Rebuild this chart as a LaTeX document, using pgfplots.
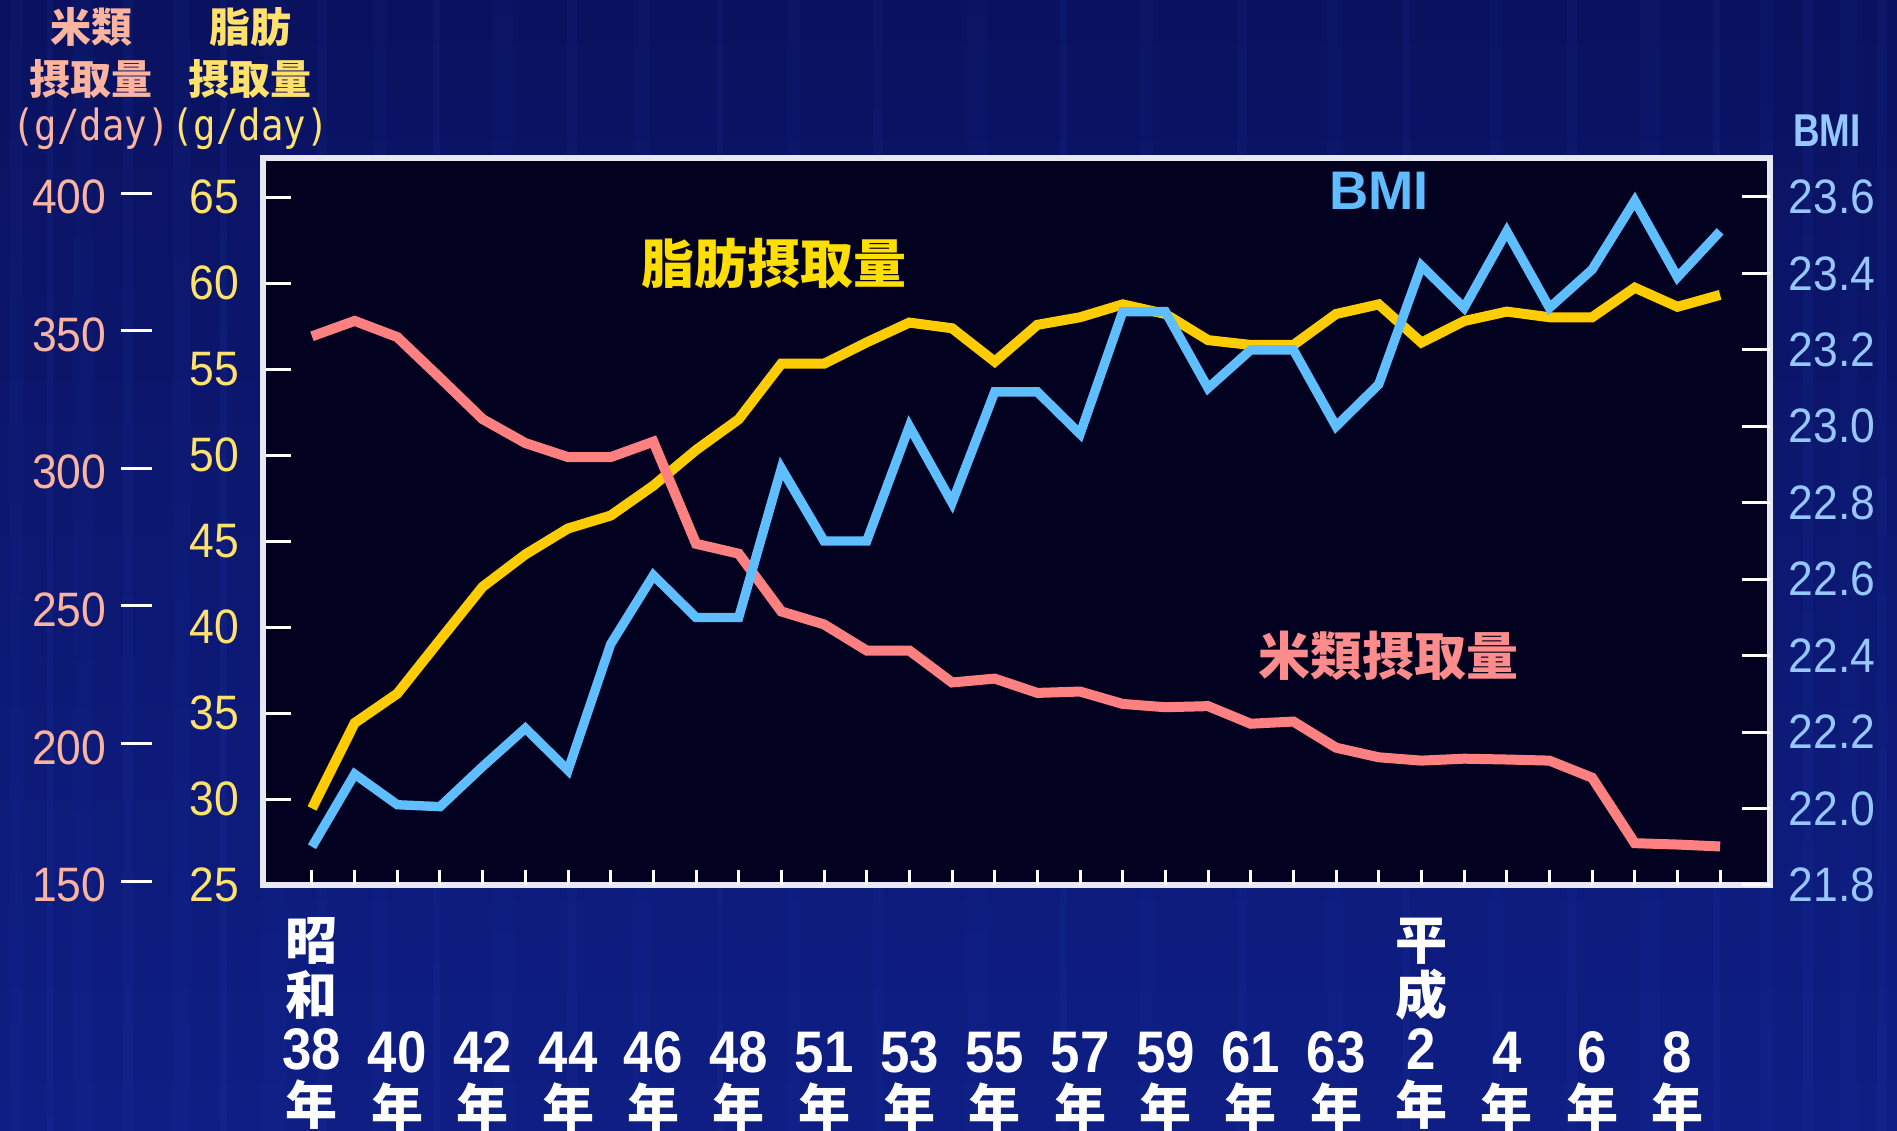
\documentclass[border=0pt]{standalone}
\usepackage{fontspec}
\usepackage{graphicx}
\usepackage{pgfplots}
\pgfplotsset{compat=1.18}
\setmainfont{Liberation Sans}
\newfontfamily\cjk{Noto Sans CJK JP}[BoldFont={Noto Sans CJK JP Black}]
\newfontfamily\numfont[FakeStretch=0.92]{Liberation Sans}
\newfontfamily\xnfont[FakeStretch=0.9]{Liberation Sans}
\newfontfamily\condfont[FakeStretch=0.8]{Liberation Sans}
\newfontfamily\monofont{DejaVu Sans Mono}

\definecolor{bgtop}{RGB}{10,18,95}
\definecolor{bgbot}{RGB}{14,30,132}
\definecolor{streak}{RGB}{40,75,200}
\definecolor{plotbg}{RGB}{2,2,32}
\definecolor{framecol}{RGB}{232,232,240}
\definecolor{rice}{RGB}{255,128,128}
\definecolor{fat}{RGB}{255,204,0}
\definecolor{bmi}{RGB}{95,190,255}
\definecolor{ricelab}{RGB}{250,180,160}
\definecolor{fatlab}{RGB}{255,225,110}
\definecolor{bmilab}{RGB}{150,200,255}
\definecolor{fatin}{RGB}{255,222,0}
\definecolor{ricein}{RGB}{255,140,140}
\definecolor{bmiin}{RGB}{95,188,255}

\pgfplotstableread{
x rice fat bmi
0 349.4 29.45 21.90
1 355.0 34.42 22.09
2 349.1 36.13 22.01
3 334.3 39.25 22.005
4 319.3 42.34 22.11
5 310.6 44.22 22.21
6 305.5 45.73 22.10
7 305.5 46.48 22.43
8 311.1 48.22 22.61
9 274.0 50.29 22.50
10 270.4 52.08 22.50
11 249.4 55.31 22.89
12 244.7 55.31 22.70
13 235.2 56.55 22.70
14 235.2 57.70 23.00
15 223.6 57.37 22.80
16 225.0 55.43 23.09
17 219.8 57.57 23.09
18 220.3 58.01 22.98
19 215.8 58.76 23.30
20 214.6 58.20 23.30
21 215.0 56.68 23.10
22 208.6 56.40 23.20
23 209.4 56.40 23.20
24 199.9 58.20 23.00
25 196.4 58.76 23.11
26 195.2 56.54 23.42
27 195.9 57.79 23.31
28 195.6 58.34 23.51
29 195.2 58.01 23.31
30 189.0 58.01 23.41
31 165.2 59.73 23.59
32 164.7 58.62 23.39
33 164.0 59.31 23.51
}\datatable

\newcommand{\xe}[3]{#1\\#2\\{\xnfont\bfseries\fontsize{17.6}{16.5}\selectfont #3}\\年}
\newcommand{\xn}[1]{\phantom{年}\\\phantom{年}\\{\xnfont\bfseries\fontsize{17.6}{16.5}\selectfont #1}\\年}

\pgfplotsset{base/.style={scale only axis, width=452.1pt, height=218.1pt,
  at={(78.9pt,73.8pt)}, anchor=south west, xmin=-1.148, xmax=34.17,
  clip=false}}

\begin{document}
\begin{tikzpicture}
\useasboundingbox (0,0) rectangle (569.1pt,339.3pt);
\shade[top color=bgtop, bottom color=bgbot] (0,0) rectangle (569.1pt,339.3pt);
\foreach \xx/\ww/\op in {3/4/0.07, 14/2/0.11, 22/6/0.06, 37/3/0.09, 52/5/0.07, 66/2/0.12, 79/7/0.05,
  95/3/0.08, 112/4/0.06, 130/2/0.1, 148/6/0.05, 170/3/0.08, 190/5/0.06, 215/2/0.09, 236/4/0.06,
  262/3/0.07, 290/6/0.05, 318/2/0.1, 342/4/0.06, 371/3/0.08, 398/5/0.06, 421/2/0.1, 447/4/0.06,
  470/3/0.08, 492/6/0.06, 514/2/0.11, 528/4/0.07, 541/3/0.1, 552/5/0.06, 563/3/0.09}
  {\fill[streak, opacity=\op] (\xx pt,0) rectangle ++(\ww pt,339.3pt);}

% fat axis (frame + plot background)
\begin{axis}[base, ymin=25, ymax=67.27, ytick={25,30,...,65}, xtick=\empty,
  ytick pos=left, tick align=inside, major tick length=8.4pt,
  ytick style={white, line width=0.9pt},
  axis line style={draw=framecol, line width=1.6pt},
  axis background/.style={fill=plotbg},
  /pgf/number format/assume math mode=true,
  yticklabel style={text=fatlab, font=\numfont\fontsize{14.5}{14.5}\selectfont, inner sep=0pt, xshift=-6.9pt}]
\addplot[fat, line width=3pt] table[x=x, y=fat] {\datatable};
\end{axis}

% rice axis (x ticks and labels)
\begin{axis}[base, ymin=150, ymax=414.2, ytick={150,200,...,400},
  ytick pos=left, xtick={0,...,33}, xtick pos=bottom,
  tick align=inside, major tick length=4.5pt,
  ytick style={draw=none}, xtick style={white, line width=0.9pt},
  axis line style={draw=none},
  /pgf/number format/assume math mode=true,
  yticklabel={\textcolor{ricelab}{\pgfmathprintnumber{\tick}}\hspace{4.5pt}\textcolor{white}{\rule[5.7pt]{9.3pt}{0.9pt}}},
  yticklabel style={font=\numfont\fontsize{14.5}{14.5}\selectfont, inner sep=0pt, xshift=-33pt, anchor=east},
  xticklabels={{\xe{昭}{和}{38}},{},{\xn{40}},{},{\xn{42}},{},{\xn{44}},{},{\xn{46}},{},{\xn{48}},{},{\xn{51}},{},{\xn{53}},{},{\xn{55}},{},{\xn{57}},{},{\xn{59}},{},{\xn{61}},{},{\xn{63}},{},{\xe{平}{成}{2}},{},{\xn{4}},{},{\xn{6}},{},{\xn{8}},{}},
  xticklabel style={align=center, font=\cjk\bfseries\fontsize{15.6}{16.5}\selectfont, text=white, anchor=north, inner sep=0pt, yshift=-9.6pt}]
\addplot[rice, line width=3pt] table[x=x, y=rice] {\datatable};
\end{axis}

% BMI axis
\begin{axis}[base, ymin=21.8, ymax=23.702,
  ytick={21.8,22.0,22.2,22.4,22.6,22.8,23.0,23.2,23.4,23.6},
  ytick pos=right, xtick=\empty, tick align=inside, major tick length=8.4pt,
  ytick style={white, line width=0.9pt},
  axis line style={draw=none},
  /pgf/number format/assume math mode=true,
  yticklabel style={text=bmilab, font=\numfont\fontsize{14.5}{14.5}\selectfont, inner sep=0pt, xshift=5.4pt, anchor=west,
    /pgf/number format/fixed, /pgf/number format/fixed zerofill, /pgf/number format/precision=1}]
\addplot[bmi, line width=2.8pt] table[x=x, y=bmi] {\datatable};
\end{axis}

% in-plot labels
\node[font=\cjk\bfseries\fontsize{15.9}{16}\selectfont, text=fatin] at (232.2pt,260.1pt) {脂肪摂取量};
\node[font=\bfseries\fontsize{16.3}{16}\selectfont, text=bmiin] at (413.7pt,282.0pt) {BMI};
\node[font=\cjk\bfseries\fontsize{15.6}{16}\selectfont, text=ricein] at (416.4pt,142.5pt) {米類摂取量};

% axis headers
\node[font=\cjk\bfseries\fontsize{12.3}{12}\selectfont, text=ricelab] at (27.3pt,331.2pt) {米類};
\node[font=\cjk\bfseries\fontsize{12.3}{12}\selectfont, text=ricelab] at (27.3pt,315.6pt) {摂取量};
\node[font=\monofont\fontsize{11.2}{11}\selectfont, text=ricelab, inner sep=0pt] at (27.3pt,300.6pt) {\scalebox{1}[1.15]{(g/day)}};
\node[font=\cjk\bfseries\fontsize{12.3}{12}\selectfont, text=fatlab] at (75pt,331.2pt) {脂肪};
\node[font=\cjk\bfseries\fontsize{12.3}{12}\selectfont, text=fatlab] at (75pt,315.6pt) {摂取量};
\node[font=\monofont\fontsize{11.2}{11}\selectfont, text=fatlab, inner sep=0pt] at (75pt,300.6pt) {\scalebox{1}[1.15]{(g/day)}};
\node[font=\condfont\bfseries\fontsize{13.8}{14}\selectfont, text=bmilab] at (548.1pt,300.0pt) {BMI};
\end{tikzpicture}
\end{document}
